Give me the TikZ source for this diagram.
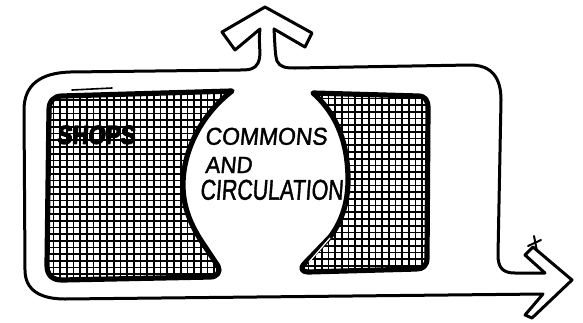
\documentclass[tikz,border=0pt]{standalone}
\usepackage{fontspec}
\newfontfamily\hand[FakeSlant=0.1,FakeBold=1.6]{Liberation Sans}
\newfontfamily\handbold[FakeSlant=0.1,FakeBold=5]{Liberation Sans Bold}
\newcommand\LshopPath{(62,96) -- (232,91) .. controls (202,114) and (183,150) .. (183,185) .. controls (183,212) and (195,232) .. (206,248) -- (218,266) .. controls (221,272) and (217,277) .. (210,277) -- (62,280) .. controls (52,280) and (47,275) .. (47,265) -- (49,110) .. controls (49,101) and (54,96) .. (62,96) -- cycle}
\newcommand\RshopPath{(313,93) -- (418,96) .. controls (425,96) and (428,100) .. (428,108) -- (427,258) .. controls (427,266) and (423,269) .. (416,269) -- (308,272) .. controls (302,272) and (300,268) .. (304,264) -- (330,237) .. controls (343,220) and (348,200) .. (348,180) .. controls (348,145) and (338,115) .. (313,93) -- cycle}
\begin{document}
\begin{tikzpicture}[x=1pt,y=-1pt,line join=round,line cap=round]
\tikzset{
  loopline/.style={line width=3pt,draw=black},
  shopline/.style={line width=5.2pt,draw=black},
  hatch/.style={line width=1.7pt,draw=black,line cap=butt},
  label/.style={anchor=south west,inner sep=0pt,outer sep=0pt}
}
\useasboundingbox (0,0) rectangle (583,322);
\fill[white] (0,0) rectangle (583,322);
% hatching of the shops
\begin{scope}
  \clip \LshopPath;
  \foreach \gx in {40,46.7,...,240} {\draw[hatch] (\gx,80) -- (\gx,290);}
  \foreach \gy in {80,86.7,...,290} {\draw[hatch] (40,\gy) -- (240,\gy);}
\end{scope}
\begin{scope}
  \clip \RshopPath;
  \foreach \gx in {295,301.7,...,440} {\draw[hatch] (\gx,85) -- (\gx,285);}
  \foreach \gy in {85,91.7,...,285} {\draw[hatch] (295,\gy) -- (440,\gy);}
\end{scope}
\draw[shopline] \LshopPath;
\draw[shopline] \RshopPath;
% sketchy extra strokes
\draw[line width=1.6pt] (72,90) -- (112,88);
\draw[line width=1.2pt,white] (309,262) -- (330,238);
% circulation loop with the two outlet arrows
\draw[loopline]
  (260,29) -- (235,50) -- (222,32) -- (265,7) -- (312,33) -- (305,47) -- (274,29)
  .. controls (275,45) and (275,55) .. (277,61) .. controls (280,67) and (285,68) .. (295,68)
  -- (470,65) .. controls (492,65) and (501,78) .. (501,100)
  -- (498,255) .. controls (498,268) and (503,273) .. (515,273)
  -- (545,273) -- (525,255) -- (533,247) -- (572,280) -- (532,318) -- (525,315) -- (543,294)
  -- (65,299) .. controls (40,299) and (25,290) .. (25,270)
  -- (24,110) .. controls (24,85) and (40,73) .. (70,72)
  -- (240,70) .. controls (250,70) and (255,69) .. (258,63) .. controls (262,55) and (258,45) .. (260,29) -- cycle;
\draw[line width=2pt] (528,246) -- (541,240);
\draw[line width=2pt] (534,236) -- (537,251);
% labels
\node[label] (commons) at (205,145) {\resizebox{122pt}{17pt}{\hand COMMONS}};
\node[label] (and) at (205,173) {\resizebox{47pt}{16pt}{\hand AND}};
\node[label] (circ) at (200,200) {\resizebox{143pt}{20pt}{\hand CIRCULATION}};
\node[label] (shops) at (57,144) {\resizebox{78pt}{18pt}{\handbold SHOPS}};
\end{tikzpicture}
\end{document}
